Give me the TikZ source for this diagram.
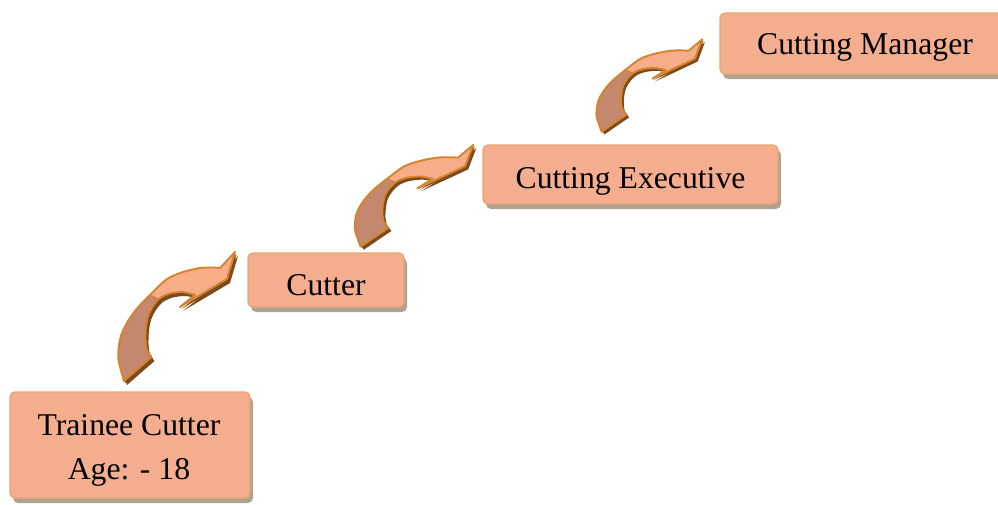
\documentclass[tikz,border=0pt]{standalone}
\usepackage{fontspec}
\setmainfont{Liberation Serif}
\usetikzlibrary{shadows}
\definecolor{boxfill}{HTML}{F4AE8F}
\definecolor{boxline}{HTML}{E6A673}
\definecolor{shadowc}{HTML}{B0A292}
\definecolor{arrowlight}{HTML}{F6AD88}
\definecolor{arrowdark}{HTML}{C4886F}
\definecolor{arrowdeep}{HTML}{7C4A1C}
\definecolor{arrowline}{HTML}{D5832F}
\newcommand\arrowface{(6,130) -- plot[smooth] coordinates {(6,130) (0.5,109) (1,94) (4,82) (10,70) (17,60) (24,52) (35,41) (49,28) (65,21) (82,17) (94,16.5) (102,17)} -- (117,1) -- (109,28) -- (62,56) -- (77,44) -- plot[smooth] coordinates {(77,44) (65,41) (52,42.5) (42,47) (35,55) (30,65) (28,76) (27.5,89) (29,99) (33.5,106)} -- cycle}
\newcommand\curvearrow[4]{%
  \begin{scope}[shift={(#1,#2)}, xscale=#3, yscale=#4]
    \fill[arrowdeep, shift={(1.5,2)}] \arrowface;
    \fill[arrowdeep, shift={(3,4)}] \arrowface;
    \fill[arrowdark] \arrowface;
    \begin{scope}
      \clip (27,41) -- (47,52) -- (130,80) -- (130,-5) -- (27,-5) -- cycle;
      \fill[arrowlight] \arrowface;
    \end{scope}
    \draw[arrowline, line width=1.2pt] (32.2,43.8) -- (40.7,48.5);
    \draw[arrowline, line width=1.9pt, line join=round] \arrowface;
  \end{scope}}
\begin{document}
\begin{tikzpicture}[x=1pt, y=-1pt,
  boxst/.style={draw=boxline, line width=1.4pt, fill=boxfill, rounded corners=5pt,
    inner sep=0pt, text depth=0pt,
    drop shadow={shadow xshift=3pt, shadow yshift=-5pt, fill=shadowc, draw=none, opacity=1},
    font=\fontsize{31.7}{44}\selectfont},
  txt/.style={font=\fontsize{31.7}{44}\selectfont, text=black, inner sep=0pt}]
\useasboundingbox (0,0) rectangle (998,504);

% arrows
\curvearrow{118}{251}{1}{1}
\curvearrow{354.5}{144.2}{1.015}{0.788}
\curvearrow{596.2}{38.6}{0.906}{0.716}

% boxes
\node[boxst, minimum width=240pt, minimum height=106pt] (trainee) at (130,445) {};
\node[txt, anchor=base] (traineeA) at (129,435) {Trainee Cutter};
\node[txt, anchor=base] (traineeB) at (129,479) {Age: - 18};
\node[boxst, minimum width=156pt, minimum height=54pt, text height=30pt] (cutter) at (326,280) {Cutter};
\node[boxst, minimum width=295pt, minimum height=59pt, text height=27pt] (exec) at (630.5,174.5) {Cutting Executive};
\node[boxst, minimum width=290pt, minimum height=61pt, text height=21pt] (manager) at (865,43.5) {Cutting Manager};
\end{tikzpicture}
\end{document}
